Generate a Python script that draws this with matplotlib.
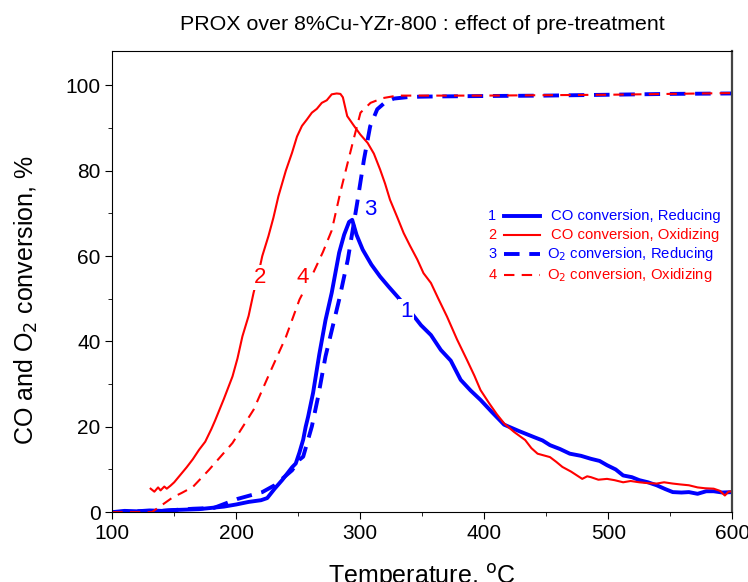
import numpy as np
import matplotlib.pyplot as plt
from matplotlib.ticker import MultipleLocator
from matplotlib.lines import Line2D

plt.rcParams['font.family'] = ['Liberation Sans', 'DejaVu Sans']

# 1 : CO conversion, Reducing (blue solid)
t1 = [100, 110, 120, 130, 140, 150, 160, 170, 180, 190, 200, 210, 220, 225, 231, 237, 241, 245,
      248, 251, 254, 256, 258, 262, 267, 272, 277, 283, 287, 291, 293.5, 297, 302, 309, 316, 323,
      330, 339, 349, 357, 365, 373, 381, 389, 397, 406, 416, 428, 440, 447, 453, 461, 469, 478,
      486, 493, 499, 506, 512, 519, 525, 532, 539, 546, 552, 559, 565, 572, 579, 585, 592, 600]
co_red = [0, 0.3, 0.2, 0.4, 0.3, 0.5, 0.6, 0.7, 1.0, 1.3, 1.8, 2.4, 2.8, 3.3, 5.5, 7.5, 9.0, 10.5,
          11.4, 14, 17, 20, 22.4, 28, 37, 45, 51.4, 60.8, 65, 68, 68.5, 65, 61.5, 58, 55.2, 52.8,
          50.5, 47.5, 43.8, 41.5, 38, 35.5, 31, 28.5, 26.3, 23.5, 20.5, 19, 17.6, 16.8, 15.7, 14.8,
          13.7, 13.2, 12.5, 12, 11, 10, 8.6, 8.2, 7.5, 7, 6.3, 5.4, 4.7, 4.6, 4.7, 4.3, 4.9, 4.9, 4.6, 4.7]

# 2 : CO conversion, Oxidizing (red solid)
t2 = [131, 134, 137, 139, 142, 144, 147, 150, 156, 160, 165, 170, 175, 180, 183, 190, 197, 201,
      205, 210, 214, 218, 221, 226, 230, 234, 240, 245, 249, 253, 257, 261, 265, 269, 273, 277,
      281, 284, 286, 289.5, 295, 300, 306, 311, 316, 320, 324, 330, 335, 340, 346, 351, 357, 363,
      370, 378, 386, 392, 397, 404, 410, 416, 424, 433, 438, 443, 448, 453, 458, 463, 470, 479,
      483, 486, 492, 499, 505, 512, 518, 525, 532, 539, 545, 552, 558, 565, 572, 578, 585, 590,
      594, 597, 600]
co_ox = [5.5, 4.8, 5.8, 5.1, 6.0, 5.5, 6.2, 7.0, 9.1, 10.5, 12.4, 14.6, 16.5, 19.5, 21.5, 26.5, 31.8, 36,
         41.2, 46, 51.4, 56, 60, 64.7, 69, 74, 80, 84.2, 88, 90.5, 92, 93.6, 94.5, 95.9, 96.5, 97.9,
         98.1, 98, 97.2, 92.8, 90.5, 88.5, 86.5, 84, 80.3, 77, 73.2, 69, 65.4, 62.5, 59.2, 56, 53.7, 50,
         45.8, 40.5, 35.7, 32, 28.6, 25.5, 23, 20.8, 18.8, 16.9, 15, 13.7, 13.3, 12.9, 11.8, 10.6, 9.5, 7.8,
         8.4, 8.2, 7.6, 7.8, 7.5, 7, 7.3, 7, 6.8, 6.7, 7, 6.7, 6.5, 6.3, 5.8, 5.6, 5.5, 5.0,
         3.9, 4.8, 4.9]

# 3 : O2 conversion, Reducing (blue dashed)
t3 = [100, 120, 140, 150, 165, 182, 201, 221, 231, 245, 251, 254, 261, 266, 272, 283, 290, 297.5,
      303, 308, 313.7, 320, 327, 340, 360, 400, 450, 500, 550, 600]
o2_red = [0, 0.2, 0.3, 0.5, 0.8, 1.0, 3.1, 4.7, 6.3, 9.8, 12.3, 13, 20.1, 27, 36.5, 49.8, 59.2, 72.4,
          82.6, 90.4, 94.4, 96, 96.9, 97.3, 97.4, 97.5, 97.6, 97.8, 98.0, 98.1]

# 4 : O2 conversion, Oxidizing (red dashed)
t4 = [100, 115, 132, 149, 156, 165, 178, 197, 214, 227, 240, 251, 262, 270, 277, 284, 290, 294.6, 300.2,
      308.3, 318, 329.8, 345, 400, 450, 500, 550, 600]
o2_ox = [0, 0, 0, 3.5, 4.5, 5.9, 9.9, 16.2, 24, 32.6, 41, 49.8, 56, 61, 66, 75, 82, 87.3, 93.6,
         95.9, 97, 97.6, 97.6, 97.6, 97.7, 97.8, 98.0, 98.2]

labels = ['CO conversion, Reducing', 'CO conversion, Oxidizing',
          'O$_2$ conversion, Reducing', 'O$_2$ conversion, Oxidizing']

fig = plt.figure(figsize=(7.48, 5.82), dpi=100)
ax = fig.add_axes([0.150, 0.120, 0.829, 0.792])

st = [dict(color='blue', lw=2.8, ls='-'),
      dict(color='red', lw=1.5, ls='-'),
      dict(color='blue', lw=2.8, ls=(0, (4, 2.5))),
      dict(color='red', lw=1.5, ls=(0, (5, 3.5)))]

ax.plot(t1, co_red, **st[0])
ax.plot(t2, co_ox, **st[1])
ax.plot(t3, o2_red, **st[2])
ax.plot(t4, o2_ox, **st[3])

# numbers on the curves
bb = dict(facecolor='white', edgecolor='none', pad=1.5)
ax.text(219.5, 55, '2', color='red', fontsize=16, ha='center', va='center', bbox=bb)
ax.text(253.5, 55, '4', color='red', fontsize=16, ha='center', va='center', bbox=bb)
ax.text(308, 71, '3', color='blue', fontsize=16, ha='center', va='center', bbox=bb)
ax.text(337, 47, '1', color='blue', fontsize=16, ha='center', va='center', bbox=bb)

# legend
rows = [0.642, 0.601, 0.560, 0.514]
for i, y in enumerate(rows):
    c = st[i]['color']
    ax.text(0.613, y, str(i + 1), color=c, fontsize=10.5, ha='center', va='center', transform=ax.transAxes)
    ax.add_line(Line2D([0.632, 0.690], [y, y], transform=ax.transAxes, **st[i]))
    ax.text(0.708 if i < 2 else 0.701, y, labels[i], color=c, fontsize=10.7, ha='left', va='center',
            transform=ax.transAxes)

ax.set_xlim(100, 600)
ax.set_ylim(0, 108)
ax.xaxis.set_major_locator(MultipleLocator(100))
ax.xaxis.set_minor_locator(MultipleLocator(50))
ax.yaxis.set_major_locator(MultipleLocator(20))
ax.yaxis.set_minor_locator(MultipleLocator(10))
ax.tick_params(which='major', direction='out', length=5, labelsize=15, top=False, right=False)
ax.tick_params(which='minor', direction='out', length=3, top=False, right=False)
ax.spines['right'].set_linewidth(1.6)
ax.spines['right'].set_color('#444444')

ax.set_xlabel('Temperature, $^{\\rm o}$C', fontsize=18, labelpad=14)
ax.set_ylabel('CO and O$_2$ conversion, %', fontsize=18, labelpad=18.5)
ax.yaxis.label.set_y(0.46)
ax.set_title('PROX over 8%Cu-YZr-800 : effect of pre-treatment', fontsize=15.4, pad=15)

fig.savefig('out.png', dpi=100)
